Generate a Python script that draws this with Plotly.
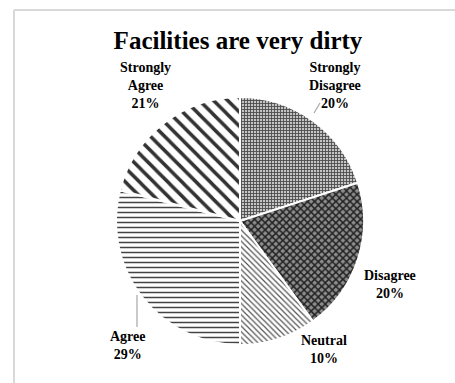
import math
import plotly.graph_objects as go

# Survey responses for "Facilities are very dirty"
categories = ["Strongly Disagree", "Disagree", "Neutral", "Agree", "Strongly Agree"]
label_lines = ["Strongly<br>Disagree", "Disagree", "Neutral", "Agree", "Strongly<br>Agree"]
values = [20, 20, 10, 29, 21]

W, H = 455, 383
CX, CY, R = 240, 221, 124  # pie centre and radius in pixels
SERIF = "Liberation Serif, Times New Roman, serif"

patterns = [
    dict(shape="+", size=3, solidity=0.5, fgcolor="#4a4a4a", bgcolor="#c4c4c4"),
    dict(shape="x", size=5, solidity=0.5, fgcolor="#222222", bgcolor="#8c8c8c"),
    dict(shape="\\", size=4, solidity=0.3, fgcolor="#555555", bgcolor="#ffffff"),
    dict(shape="-", size=5, solidity=0.3, fgcolor="#444444", bgcolor="#ffffff"),
    dict(shape="\\", size=10, solidity=0.35, fgcolor="#333333", bgcolor="#ffffff"),
]

fig = go.Figure(go.Pie(
    labels=categories,
    values=values,
    sort=False,
    direction="clockwise",
    rotation=0,
    textinfo="none",
    hoverinfo="label+percent",
    marker=dict(
        colors=["#ffffff"] * len(values),
        pattern=dict(
            shape=[p["shape"] for p in patterns],
            size=[p["size"] for p in patterns],
            solidity=[p["solidity"] for p in patterns],
            fgcolor=[p["fgcolor"] for p in patterns],
            bgcolor=[p["bgcolor"] for p in patterns],
            fillmode="replace",
        ),
        line=dict(color="#ffffff", width=2),
    ),
    domain=dict(x=[(CX - R) / W, (CX + R) / W],
                y=[1 - (CY + R) / H, 1 - (CY - R) / H]),
    showlegend=False,
))


def px_to_paper(x, y):
    return x / W, 1 - y / H


# data labels placed around the pie from each slice's mid-angle
total = sum(values)
angle_nudge = [-1, 5, -15, -10, 3]       # degrees, clockwise
radial = [1.33, 1.31, 1.24, 1.35, 1.33]
annotations = []
cum = 0
for i, v in enumerate(values):
    mid = (cum + v / 2) / total * 360 + angle_nudge[i]
    cum += v
    a = math.radians(mid)
    x = CX + radial[i] * R * math.sin(a)
    y = CY - radial[i] * R * math.cos(a)
    pct = round(v / total * 100)
    xp, yp = px_to_paper(x, y)
    annotations.append(dict(
        x=xp, y=yp, xref="paper", yref="paper",
        xanchor="center", yanchor="middle",
        text=f"<b>{label_lines[i]}<br>{pct}%</b>",
        showarrow=False, align="center",
        font=dict(family=SERIF, size=14, color="#000000"),
    ))

# leader lines for the labels set further out
shapes = []
for (x0, y0, x1, y1) in [(314, 113, 320, 103), (137, 295, 137, 327)]:
    a0 = px_to_paper(x0, y0)
    a1 = px_to_paper(x1, y1)
    shapes.append(dict(type="line", xref="paper", yref="paper",
                       x0=a0[0], y0=a0[1], x1=a1[0], y1=a1[1],
                       line=dict(color="#a6a6a6", width=1.2)))

# chart area frame
fx, fy = px_to_paper(14, 10)
shapes.append(dict(type="line", xref="paper", yref="paper",
                   x0=fx, y0=fy, x1=1.01, y1=fy,
                   line=dict(color="#d9d9d9", width=2)))
shapes.append(dict(type="line", xref="paper", yref="paper",
                   x0=fx, y0=fy, x1=fx, y1=-0.01,
                   line=dict(color="#d9d9d9", width=2)))

fig.update_layout(
    width=W, height=H,
    margin=dict(l=0, r=0, t=0, b=0),
    paper_bgcolor="#ffffff",
    plot_bgcolor="#ffffff",
    title=dict(
        text="<b>Facilities are very dirty</b>",
        x=238 / W, xanchor="center",
        y=1 - 40 / H, yanchor="middle",
        font=dict(family=SERIF, size=25, color="#000000"),
    ),
    annotations=annotations,
    shapes=shapes,
)

fig.write_html("out.html")
